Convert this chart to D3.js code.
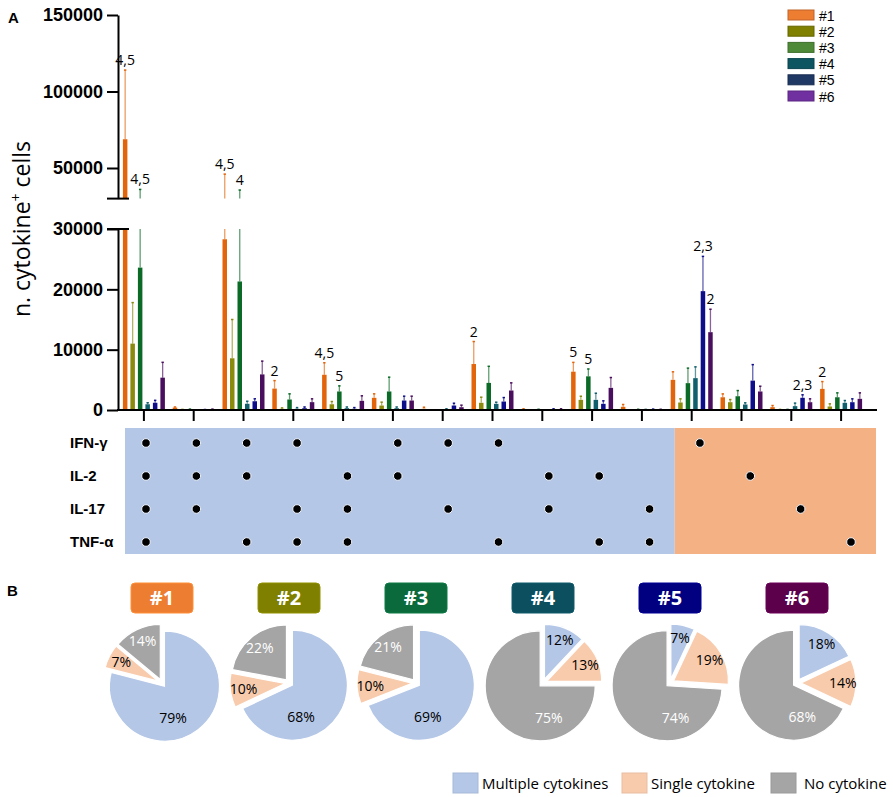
<!DOCTYPE html>
<html>
<head>
<meta charset="utf-8">
<script src="https://cdn.jsdelivr.net/npm/d3@7"></script>
<style>
  body { margin: 0; background: #fff; }
  svg { display: block; }
</style>
</head>
<body>
<svg id="chart" width="893" height="797"></svg>
<script>
// ---- data ----
const cytokines = ["IFN-γ", "IL-2", "IL-17", "TNF-α"];
// which cytokines each bar group stands for (1 = produced)
const combos = [
  [1,1,1,1], [1,1,1,0], [1,1,0,1], [1,0,1,1], [0,1,1,1],
  [1,1,0,0], [1,0,1,0], [1,0,0,1], [0,1,1,0], [0,1,0,1], [0,0,1,1],
  [1,0,0,0], [0,1,0,0], [0,0,1,0], [0,0,0,1]
];
const series = ["#1", "#2", "#3", "#4", "#5", "#6"];

// mean number of cytokine+ cells, one array per series
const mean1 = [68800, 400, 28300, 3550, 5840, 2020, 200, 7620, 120, 6350, 530, 5000, 2110, 470, 3500];
const mean2 = [11000, 50, 8570, 200, 950, 740, 0, 1190, 0, 1680, 0, 1240, 1290, 50, 580];
const mean3 = [23600, 100, 21300, 1740, 3070, 3070, 0, 4490, 80, 5580, 80, 4450, 2280, 50, 2110];
const mean4 = [950, 0, 1030, 200, 300, 300, 100, 1020, 0, 1680, 50, 5280, 910, 640, 1190];
const mean5 = [1200, 50, 1450, 300, 200, 1570, 740, 1400, 150, 1020, 100, 19700, 4870, 2020, 1290];
const mean6 = [5360, 100, 5900, 1300, 1520, 1570, 460, 3230, 150, 3670, 80, 12900, 3070, 1290, 1850];

// error (upper whisker length)
const err1 = [45200, 100, 17700, 1320, 1990, 660, 260, 3730, 80, 1540, 380, 1330, 560, 270, 1210];
const err2 = [6800, 50, 6430, 150, 450, 560, 0, 930, 0, 600, 0, 610, 440, 50, 440];
const err3 = [12400, 50, 14300, 940, 930, 2370, 0, 2750, 40, 1220, 40, 2490, 940, 50, 730];
const err4 = [250, 0, 420, 200, 200, 200, 100, 270, 0, 1100, 50, 1870, 280, 500, 380];
const err5 = [400, 30, 400, 200, 200, 720, 380, 660, 50, 500, 50, 5760, 2650, 500, 560];
const err6 = [2540, 50, 2200, 550, 830, 720, 340, 1270, 50, 1710, 40, 3800, 870, 560, 990];

// significance marks: group, series, text
const marks = [
  [0, 0, "4,5"], [0, 2, "4,5"], [2, 0, "4,5"], [2, 2, "4"], [3, 0, "2"],
  [4, 0, "4,5"], [4, 2, "5"], [7, 0, "2"], [9, 0, "5"], [9, 2, "5"],
  [11, 4, "2,3"], [11, 5, "2"], [13, 4, "2,3"], [14, 0, "2"]
];

const yTicksLow = [0, 10000, 20000, 30000];
const yTicksHigh = [50000, 100000, 150000];

// pie shares (%)
const pieMulti = [79, 68, 69, 12, 7, 18];
const pieSingle = [7, 10, 10, 13, 19, 14];
const pieNone = [14, 22, 21, 75, 74, 68];
const pieParts = ["Multiple cytokines", "Single cytokine", "No cytokine"];

// ---- styles ----
const barColors = ["#e2650c", "#8a8a0c", "#0b6a26", "#0f5f6c", "#0e0e8a", "#4a0e5e"];
const legendColors = ["#ed7d31", "#7f7f00", "#4f8a38", "#0e5562", "#1f3864", "#7030a0"];
const boxColors = ["#ed7d31", "#7f7f00", "#0b6a3c", "#0c4f5e", "#000080", "#5c004c"];
const partColors = ["#b4c7e7", "#f8cbad", "#a5a5a5"];

const means = [mean1, mean2, mean3, mean4, mean5, mean6];
const errs = [err1, err2, err3, err4, err5, err6];

const svg = d3.select("#chart");
const tickFont = "'Liberation Sans', Arial, sans-serif";
const labelFont = "'Open Sans', 'Noto Sans', sans-serif";

// ---- scales ----
const x = d3.scaleBand().domain(d3.range(combos.length)).range([119, 866]);
const xs = d3.scaleBand().domain(d3.range(series.length)).range([-22.5, 22.5]).paddingInner(0.4).paddingOuter(0.2);
const yLo = d3.scaleLinear().domain([0, 30000]).range([410, 229]);
const yHi = d3.scaleLinear().domain([30000, 150000]).range([198.6, 15]);

// draw a vertical span [a,b] of values across the broken axis
function spans(a, b) {
  let out = [];
  if (a < 30000) out.push([yLo(a), yLo(Math.min(b, 30000))]);
  if (b > 30000) out.push([yHi(Math.max(a, 30000)), yHi(b)]);
  return out;
}

// ---- bars ----
let barData = [];
means.forEach((m, s) => m.forEach((v, g) => barData.push({g: g, s: s, v: v, e: errs[s][g]})));

const gBars = svg.append("g");
barData.forEach(d => {
  let bx = x(d.g) + x.bandwidth() / 2 + xs(d.s);
  let bw = xs.bandwidth();
  // whisker
  if (d.e > 0) {
    spans(d.v, d.v + d.e).forEach(p => {
      gBars.append("line")
        .attr("x1", bx + bw / 2).attr("x2", bx + bw / 2)
        .attr("y1", p[0]).attr("y2", p[1])
        .attr("stroke", barColors[d.s]).attr("stroke-opacity", 0.65)
        .attr("stroke-width", 1.3);
    });
    let top = d.v + d.e;
    let ty = top > 30000 ? yHi(top) : yLo(top);
    gBars.append("line")
      .attr("x1", bx + bw / 2 - 1.2).attr("x2", bx + bw / 2 + 1.2)
      .attr("y1", ty).attr("y2", ty)
      .attr("stroke", barColors[d.s]).attr("stroke-width", 1.5);
  }
  if (d.v > 0) {
    spans(0, d.v).forEach(p => {
      gBars.append("rect")
        .attr("x", bx).attr("width", bw)
        .attr("y", p[1]).attr("height", Math.max(0.8, p[0] - p[1]))
        .attr("fill", barColors[d.s]);
    });
  }
});

// significance labels
svg.append("g").selectAll("text")
  .data(marks)
  .join("text")
  .attr("x", d => x(d[0]) + x.bandwidth() / 2 + xs(d[1]) + xs.bandwidth() / 2)
  .attr("y", d => {
    let top = means[d[1]][d[0]] + errs[d[1]][d[0]];
    return (top > 30000 ? yHi(top) : yLo(top)) - 5;
  })
  .attr("text-anchor", "middle")
  .style("font-family", labelFont).style("font-size", "14px")
  .text(d => d[2]);

// ---- axes ----
const axLo = svg.append("g").attr("transform", "translate(118,0)")
  .call(d3.axisLeft(yLo).tickValues(yTicksLow).tickSize(11).tickSizeOuter(0).tickFormat(d3.format("d")));
const axHi = svg.append("g").attr("transform", "translate(118,0)")
  .call(d3.axisLeft(yHi).tickValues(yTicksHigh).tickSize(11).tickSizeOuter(0).tickFormat(d3.format("d")));
[axLo, axHi].forEach(a => {
  a.selectAll("path, line").attr("stroke", "#000").attr("stroke-width", 2);
  a.selectAll("text").style("font-family", tickFont).style("font-size", "18px")
    .style("font-weight", "bold").attr("fill", "#000").attr("x", -15);
});
// break caps
[yHi(30000), yLo(30000)].forEach(yy => {
  svg.append("line").attr("x1", 107).attr("x2", 129).attr("y1", yy).attr("y2", yy)
    .attr("stroke", "#000").attr("stroke-width", 2);
});

const axX = svg.append("g").attr("transform", "translate(0,410)")
  .call(d3.axisBottom(x).tickSize(11).tickSizeOuter(0).tickFormat(""));
axX.select(".domain").remove();
axX.selectAll("line").attr("stroke", "#000").attr("stroke-width", 2);
svg.append("line").attr("x1", 117).attr("x2", 877).attr("y1", 410).attr("y2", 410)
  .attr("stroke", "#000").attr("stroke-width", 2);

// y title
svg.append("text")
  .attr("transform", "translate(30,229) rotate(-90)")
  .attr("text-anchor", "middle")
  .style("font-family", labelFont).style("font-size", "23px")
  .html("n. cytokine<tspan dy='-9' font-size='14px'>+</tspan><tspan dy='9'> cells</tspan>");

// panel letters
svg.append("text").attr("x", 8).attr("y", 23).text("A")
  .style("font-family", tickFont).style("font-weight", "bold").style("font-size", "15px");
svg.append("text").attr("x", 7).attr("y", 596).text("B")
  .style("font-family", tickFont).style("font-weight", "bold").style("font-size", "15px");

// ---- series legend (top right) ----
const leg = svg.append("g").selectAll("g").data(series).join("g")
  .attr("transform", (d, i) => `translate(788,${15 + i * 16.2})`);
leg.append("rect").attr("x", 0).attr("y", -5).attr("width", 26).attr("height", 10)
  .attr("fill", (d, i) => legendColors[i])
  .attr("stroke", (d, i) => d3.color(legendColors[i]).darker(0.6)).attr("stroke-width", 1);
leg.append("text").attr("x", 31).attr("y", 5.5).text(d => d)
  .style("font-family", tickFont).style("font-size", "14px");

// ---- cytokine matrix ----
const xm = d3.scalePoint().domain(d3.range(combos.length)).range([146, 851]);
const ym = d3.scalePoint().domain(d3.range(cytokines.length)).range([443, 542]);
const splitX = (xm(10) + xm(11)) / 2;
svg.append("rect").attr("x", 125).attr("y", 428).attr("width", splitX - 125).attr("height", 126)
  .attr("fill", "#b4c7e7");
svg.append("rect").attr("x", splitX).attr("y", 428).attr("width", 876 - splitX).attr("height", 126)
  .attr("fill", "#f4b183");
svg.append("g").selectAll("text").data(cytokines).join("text")
  .attr("x", 70).attr("y", (d, i) => ym(i)).attr("dy", "0.35em")
  .style("font-family", tickFont).style("font-weight", "bold").style("font-size", "15px")
  .text(d => d);
let dots = [];
combos.forEach((c, g) => c.forEach((on, r) => { if (on) dots.push([g, r]); }));
svg.append("g").selectAll("circle").data(dots).join("circle")
  .attr("cx", d => xm(d[0])).attr("cy", d => ym(d[1])).attr("r", 4.3)
  .attr("fill", "#000").attr("stroke", "#eef2fa").attr("stroke-width", 1);

// ---- pies ----
const pieX = d3.scalePoint().domain(d3.range(series.length)).range([162, 797]);
const pieY = 683, R = 55;
const pie = d3.pie().sort(null);
const arc = d3.arc().innerRadius(0).outerRadius(R);
const bigLabelAngle = 165 * Math.PI / 180; // the big share is labelled near the bottom

series.forEach((name, i) => {
  let cx = pieX(i);
  let g = svg.append("g").attr("transform", `translate(${cx},${pieY})`);
  let arcs = pie([pieMulti[i], pieSingle[i], pieNone[i]]);
  arcs.forEach((a, k) => {
    let mid = (a.startAngle + a.endAngle) / 2;
    let off = 4;
    let dx = Math.sin(mid) * off, dy = -Math.cos(mid) * off;
    g.append("path").attr("d", arc(a))
      .attr("transform", `translate(${dx},${dy})`)
      .attr("fill", partColors[k]).attr("stroke", "#fff").attr("stroke-width", 1.2);
    let ang = a.data > 50 ? bigLabelAngle : mid;
    let lr = a.data > 50 ? R * 0.6 : R * 0.76;
    g.append("text")
      .attr("x", Math.sin(ang) * lr + dx).attr("y", -Math.cos(ang) * lr + dy)
      .attr("dy", "0.35em").attr("text-anchor", "middle")
      .attr("fill", k === 2 ? "#fff" : "#000")
      .style("font-family", labelFont).style("font-size", "14px")
      .text(a.data + "%");
  });
  // name box
  svg.append("rect").attr("x", cx - 31).attr("y", 583).attr("width", 62).attr("height", 30)
    .attr("rx", 4).attr("fill", boxColors[i])
    .attr("stroke", d3.color(boxColors[i]).brighter(0.4)).attr("stroke-width", 1);
  svg.append("text").attr("x", cx).attr("y", 605).attr("text-anchor", "middle")
    .attr("fill", "#fff").style("font-family", labelFont).style("font-weight", "bold")
    .style("font-size", "20px").text(name);
});

// ---- pie legend ----
const legX = [453, 622, 771];
const pl = svg.append("g").selectAll("g").data(pieParts).join("g")
  .attr("transform", (d, i) => `translate(${legX[i]},773)`);
pl.append("rect").attr("width", 25).attr("height", 20)
  .attr("fill", (d, i) => partColors[i]).attr("stroke", (d, i) => d3.color(partColors[i]).darker(0.2));
pl.append("text").attr("x", (d, i) => i === 2 ? 33 : 29).attr("y", 16).text(d => d)
  .style("font-family", labelFont).style("font-size", "15px");
</script>
</body>
</html>
